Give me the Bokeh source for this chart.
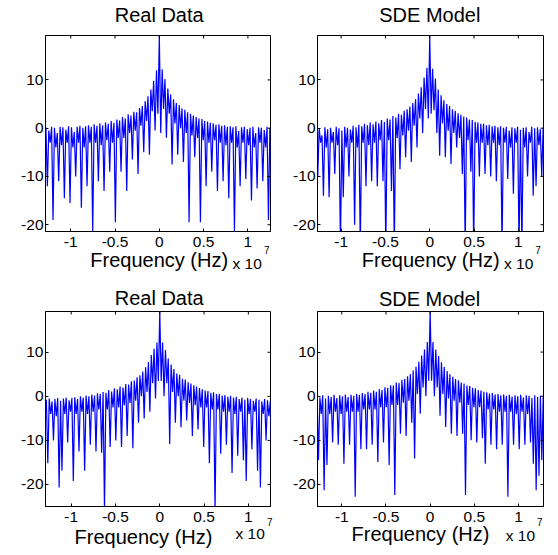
import numpy as np
from bokeh.plotting import figure
from bokeh.models import LinearAxis, FixedTicker, Range1d, ColumnDataSource, GridBox, Spacer
from bokeh.core.properties import value
from bokeh.embed import file_html
from bokeh.resources import INLINE

# ---------------- data ----------------
FREQ_START_HZ = -1.28e7      # first spectrum sample
FREQ_STEP_HZ = 0.016e7       # spacing of samples (peak, dip, peak, dip, ...)
FREQ_SCALE = 1e7             # axis shows "x 10^7"

titles = ["Real Data", "SDE Model", "Real Data", "SDE Model"]
x_label = "Frequency (Hz)"
x_ticks = [-1, -0.5, 0, 0.5, 1]
x_tick_labels = ["-1", "-0.5", "0", "0.5", "1"]
y_ticks = [-20, -10, 0, 10]
y_tick_labels = ["-20", "-10", "0", "10"]

# top-left: Real Data (peaks, then dips between them), dB
tl_peaks = [0.2, -0.5, 0.3, 0.1, -1.0, 0.3, 0.2, -0.3, 0.4, 0.2, -0.8, 0.3, 0.5, 0.1, 0.4,
            0.6, 0.3, 0.8, 0.5, 1.0, 0.6, 1.2, 0.9, 1.5, 1.1, 1.8,
            1.6, 2.3, 2.0, 2.9, 2.6, 3.4, 3.3, 4.2, 4.6, 5.6,
            6.6, 8.0, 9.8, 12.0,
            19.2,
            12.2, 10.2, 8.2, 7.0,
            6.0, 5.2, 4.8, 4.1, 3.8, 3.3, 3.0, 2.6, 2.3, 2.0,
            1.9, 1.5, 1.4, 1.1, 1.0, 0.7, 0.8, 0.5, 0.6, 0.3, 0.4,
            0.2, 0.4, -0.6, 0.2, 0.3, -0.2, 0.1, 0.3, -1.0, 0.2, 0.1, -0.4, 0.3, 0.0, 0.2]
tl_dips = [-12, -3, -19, -4, -11, -3.5, -14.5, -3, -15.5, -4,
           -10, -3, -16.5, -4, -12, -3, -21.4, -3, -11, -3.5,
           -13, -2.5, -9, -3, -19.5, -2, -9, -2, -13, -1,
           -6.5, -0.5, -9.5, 0.5, -5, 1.5, -5.5, 3.5, -0.5, 3,
           -1, 4, -2, 3, -7.5, 1, -5.5, 0, -7, -1,
           -19.5, -1.5, -6, -2, -19.5, -2.5, -12, -3, -9, -2.5,
           -13, -3, -11, -3.5, -14.5, -3, -21.4, -4, -12, -3,
           -10.5, -3.5, -15, -4, -12.5, -3, -11, -4, -19, -13]

# top-right: SDE Model
tr_peaks = [-0.3, 0.0, -1.5, 0.2, -0.2, 0.1, -0.8, 0.3, 0.0, -0.5, 0.3, 0.1, -0.3, 0.5, 0.2,
            0.7, 0.4, 0.9, 0.6, 1.2, 0.8, 1.4, 1.0, 1.7, 1.3, 2.0,
            1.8, 2.5, 2.2, 3.0, 2.8, 3.6, 3.9, 4.5, 5.2, 6.0,
            7.2, 8.5, 10.5, 12.5,
            19.2,
            12.3, 10.3, 8.0, 6.8,
            5.8, 5.0, 4.6, 3.9, 3.6, 3.1, 2.8, 2.4, 2.2, 1.8,
            1.7, 1.3, 1.2, 0.9, 0.9, 0.6, 0.7, 0.4, 0.5, 0.2, 0.4,
            0.1, 0.3, -0.5, 0.2, 0.0, 0.3, -0.3, 0.1, 0.2, -0.8, 0.3, 0.0, 0.2, -0.2, 0.1]
tr_dips = [-10, -3, -14, -4, -14.3, -3, -9.5, -3.5, -25, -14.3,
           -4, -10, -3, -20, -4, -25, -3, -12, -3.5, -11,
           -3, -12, -2.5, -11, -25, -2.5, -13, -25, -2, -8.5,
           -1.5, -6, -0.5, -7, 0.5, -4, 2, -1, 4, 2,
           3, 3.7, -1, -5.7, 1, -6, -0.5, -7.4, -1, -4,
           -2, -9.5, -25, -2.5, -9, -25, -3, -10, -3, -9.5,
           -3.5, -10, -3, -11, -3.5, -25, -3, -10.5, -4, -13.6,
           -3, -25, -25, -4, -10, -3, -14, -12, -3.5, -10]

# bottom-left: Real Data
bl_peaks = [-0.8, -0.5, -1.2, -0.6, -0.4, -1.0, -0.5, -0.3, -0.9, -0.4, -0.2, -0.6, 0.0, -0.3, 0.2,
            0.0, 0.4, 0.2, 0.7, 0.5, 1.0, 0.8, 1.4, 1.1, 1.8, 1.6,
            2.2, 2.0, 2.8, 2.7, 3.4, 3.6, 4.3, 4.8, 5.6, 6.6,
            7.8, 9.4, 10.8, 12.2,
            19.2,
            12.2, 10.5, 8.6, 7.2,
            6.2, 5.2, 4.9, 4.0, 3.8, 3.2, 2.9, 2.5, 2.2, 1.9,
            1.6, 1.3, 1.2, 0.8, 0.9, 0.5, 0.6, 0.2, 0.3, -0.1, 0.1,
            -0.3, -0.1, -0.6, -0.3, -0.8, -0.4, -0.6, -1.0, -0.5, -0.8, -1.2, -0.6, -0.9, -1.0, -0.7]
bl_dips = [-15.2, -4, -10, -4.5, -20.7, -16.9, -4, -10.5, -3.5, -19.2,
           -4, -12.5, -3.5, -16.9, -4, -11, -3.5, -12.5, -3, -12.8,
           -26, -3, -11.5, -2.5, -10, -2.5, -11.5, -2, -9, -1.5,
           -11.8, -1, -6, 0, -5, 1, -3.5, 3, -0.5, 3.5,
           3.5, 0, 3, -10.8, 1, -6, 0, -7, -1, -5.5,
           -1.5, -9, -2, -7.5, -2.5, -11.5, -2.5, -15.2, -3, -26,
           -3, -13, -3.5, -11, -3.5, -17.4, -4, -13.5, -3.5, -14.5,
           -19.2, -4, -12, -3.5, -16.9, -20.7, -4, -10, -4.5, -15.2]

# bottom-right: SDE Model
br_peaks = [0.0, -0.3, 0.2, -0.5, 0.1, -0.2, 0.3, -0.4, 0.2, 0.0, 0.4, -0.2, 0.3, 0.1, 0.5,
            0.3, 0.7, 0.5, 1.0, 0.8, 1.3, 1.0, 1.6, 1.4, 2.0, 1.9,
            2.5, 2.4, 3.1, 3.0, 3.7, 3.9, 4.5, 5.0, 5.8, 6.7,
            7.8, 9.2, 10.6, 12.3,
            19.2,
            12.3, 10.6, 9.1, 7.7,
            6.6, 5.7, 5.0, 4.4, 3.9, 3.6, 3.1, 2.9, 2.4, 2.3,
            1.9, 1.8, 1.4, 1.3, 1.0, 0.9, 0.6, 0.7, 0.4, 0.5, 0.2,
            0.4, 0.1, 0.3, -0.1, 0.2, 0.0, 0.3, -0.3, 0.2, 0.1, -0.4, 0.2, -0.2, 0.1, 0.0]
br_dips = [-14.5, -4, -21.3, -15.6, -4, -10.5, -3.5, -11, -4, -15.3,
           -3.5, -11, -3.5, -22.8, -3.5, -12, -3, -12, -3, -11,
           -3, -14.9, -2.5, -10.5, -2.5, -15.6, -2, -22.4, -2, -8.5,
           -1.5, -9, -1, -6, -14.1, 0.5, -4, 2, 0, 3.5,
           3.5, 0, 2, -4.4, 0.5, -7, -0.5, -8.5, -1, -9,
           -1.5, -8.5, -22.4, -2, -10, -2.5, -10.5, -2.5, -9.5, -15.3,
           -3, -11, -3, -12, -3.5, -11, -3.5, -22.8, -3.5, -11,
           -4, -12, -3.5, -11, -4, -10.5, -15.3, -21.3, -18, -14.5]

# ---------------- layout (pixels) ----------------
PAGE_W, PAGE_H = 558, 555
panels = [
    dict(peaks=tl_peaks, dips=tl_dips, w=279, h=277, bl=45, br=9, bt=35, bb=46,
         xr=(-1.285, 1.255), yr=(-21.4, 19.2)),
    dict(peaks=tr_peaks, dips=tr_dips, w=279, h=277, bl=38, br=15, bt=35, bb=46,
         xr=(-1.267, 1.284), yr=(-21.4, 19.2)),
    dict(peaks=bl_peaks, dips=bl_dips, w=279, h=278, bl=45, br=9, bt=34, bb=49,
         xr=(-1.29, 1.25), yr=(-25, 19.25)),
    dict(peaks=br_peaks, dips=br_dips, w=279, h=278, bl=38, br=15, bt=34, bb=49,
         xr=(-1.275, 1.283), yr=(-25, 19.2)),
]
# page positions of the texts around each panel (x, baseline), in overlay coordinates
TEXT_DY = -6.5   # measured offset of the overlay's text baseline
title_pos = [(158.7, 20.7), (429.3, 20.7), (158.7, 304.0), (429.0, 304.5)]
xlabel_pos = [(158.7, 266.0), (430.2, 266.0), (143.0, 543.0), (420.0, 540.0)]
exp_pos = [(232.0, 269.0), (503.5, 269.0), (235.0, 539.3), (505.3, 541.7)]
sup_pos = [(263.5, 255.5), (534.7, 255.5), (266.5, 527.5), (536.5, 528.0)]

FONT = "Liberation Sans"


def interleave(peaks, dips):
    vals = []
    for i, d in enumerate(dips):
        vals.append(peaks[i])
        vals.append(d)
    vals.append(peaks[-1])
    return vals


def make_panel(g):
    vals = interleave(g["peaks"], g["dips"])
    freq = (FREQ_START_HZ + FREQ_STEP_HZ * np.arange(len(vals))) / FREQ_SCALE
    fw = g["w"] - g["bl"] - g["br"]
    fh = g["h"] - g["bt"] - g["bb"]
    x0, x1 = g["xr"]
    y0, y1 = g["yr"]
    pxx = fw / (x1 - x0)
    pxy = fh / (y1 - y0)

    p = figure(width=g["w"], height=g["h"], output_backend="svg", toolbar_location=None,
               x_range=Range1d(x0, x1), y_range=Range1d(y0, y1),
               min_border_left=g["bl"], min_border_right=g["br"],
               min_border_top=g["bt"], min_border_bottom=g["bb"],
               x_axis_location=None, y_axis_location=None)
    p.title = None
    p.grid.visible = False
    p.outline_line_color = "black"
    p.outline_line_width = 1
    p.background_fill_color = "white"
    p.border_fill_color = "white"

    src = ColumnDataSource(dict(f=freq, v=vals))
    p.line("f", "v", source=src, line_color="#0000ff", line_width=1.2)

    def style(ax):
        ax.axis_line_color = "black"
        ax.major_tick_line_color = "black"
        ax.minor_tick_line_color = None
        ax.major_tick_in = 3
        ax.major_tick_out = 0
        ax.major_label_text_font = FONT
        ax.major_label_text_font_size = "15.5px"
        ax.major_label_text_color = "black"

    xb = LinearAxis(ticker=FixedTicker(ticks=x_ticks),
                    major_label_overrides=dict(zip(x_ticks, x_tick_labels)))
    style(xb)
    xb.major_label_standoff = 5
    p.add_layout(xb, "below")
    yl = LinearAxis(ticker=FixedTicker(ticks=y_ticks),
                    major_label_overrides=dict(zip(y_ticks, y_tick_labels)))
    style(yl)
    yl.major_label_standoff = 2
    p.add_layout(yl, "left")

    # inward tick marks on the top and right edges of the box
    tlx = 3 / pxx
    tly = 3 / pxy
    p.segment(x0=x_ticks, y0=[y1] * len(x_ticks), x1=x_ticks, y1=[y1 - tly] * len(x_ticks),
              line_color="black", line_width=1)
    p.segment(x0=[x1] * len(y_ticks), y0=y_ticks, x1=[x1 - tlx] * len(y_ticks), y1=y_ticks,
              line_color="black", line_width=1)
    return p


figs = [make_panel(g) for g in panels]

# transparent overlay carrying the titles, axis labels and the x 10^7 factor
ov = figure(width=PAGE_W, height=PAGE_H, output_backend="svg", toolbar_location=None,
            x_range=Range1d(0, PAGE_W), y_range=Range1d(PAGE_H, 0),
            min_border_left=0, min_border_right=0, min_border_top=0, min_border_bottom=0,
            x_axis_location=None, y_axis_location=None)
ov.title = None
ov.grid.visible = False
ov.outline_line_color = None
ov.background_fill_color = None
ov.border_fill_color = None


def put(pos, texts, size, align):
    ov.text(x=[q[0] for q in pos], y=[q[1] + TEXT_DY for q in pos], text=texts,
            text_font=value(FONT), text_font_size=value(size), text_align=align,
            text_baseline="alphabetic", text_color="black")


put(title_pos, titles, "20px", "center")
put(xlabel_pos, [x_label] * 4, "20px", "center")
put(exp_pos, ["x 10"] * 4, "15.5px", "left")
put(sup_pos, ["7"] * 4, "10px", "left")

# panels sit in grid tracks 1-2; the overlay spans tracks 0-3 (outer tracks are empty),
# so its frame is not aligned to the panels' frames
children = [(Spacer(width=0, height=0), 0, 0), (Spacer(width=0, height=0), 3, 3),
            (figs[0], 1, 1), (figs[1], 1, 2), (figs[2], 2, 1), (figs[3], 2, 2),
            (ov, 0, 0, 4, 4)]
layout = GridBox(children=children)

open("out.html", "w").write(file_html(layout, INLINE))
